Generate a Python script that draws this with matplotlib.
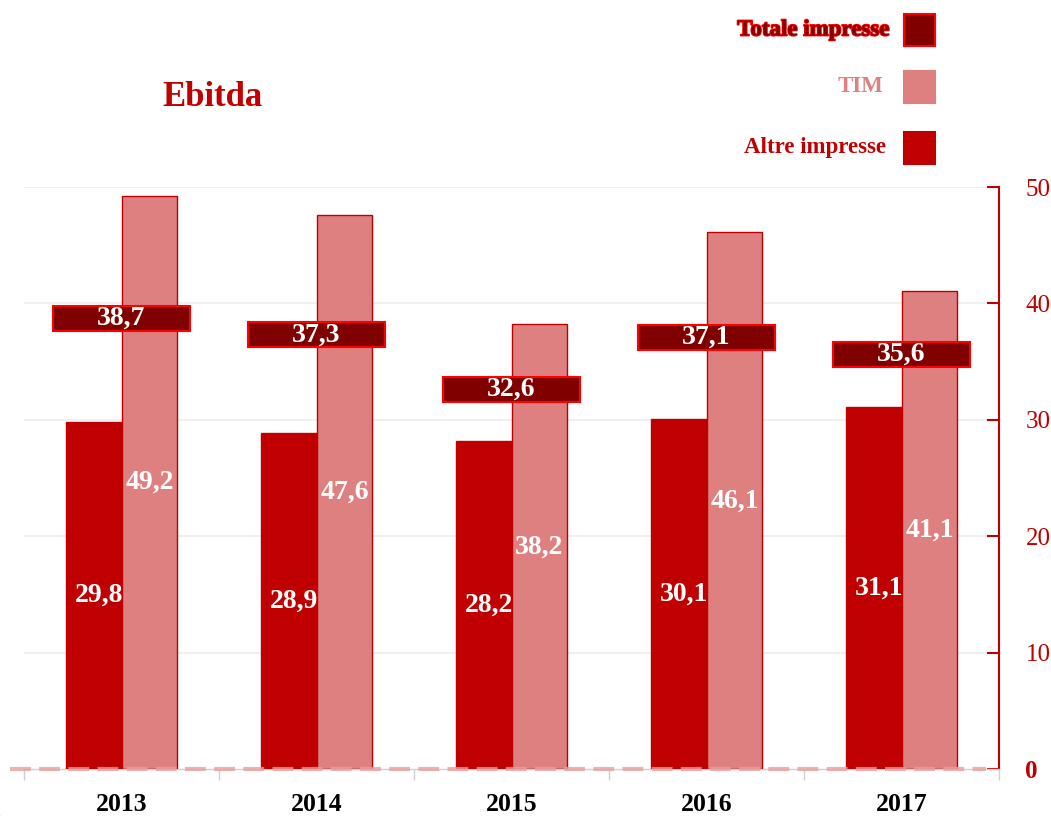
import matplotlib
matplotlib.use("Agg")
import matplotlib.pyplot as plt
import matplotlib.patheffects as pe
from matplotlib.patches import Rectangle, Arc

years = ["2013", "2014", "2015", "2016", "2017"]
altre = [29.8, 28.9, 28.2, 30.1, 31.1]
tim = [49.2, 47.6, 38.2, 46.1, 41.1]
totale = [38.7, 37.3, 32.6, 37.1, 35.6]
yticks = [0, 10, 20, 30, 40, 50]

C_ALTRE = "#C00000"
C_TIM = "#DF8080"
C_TOT = "#800000"
SERIF = "Liberation Serif"

plt.rcParams["font.family"] = SERIF

fig = plt.figure(figsize=(10.51, 8.16), dpi=100)
ax = fig.add_axes([24 / 1051, 47 / 816, 975 / 1051, 582 / 816])

x = list(range(len(years)))
w = 0.287
ax.bar([i - w / 2 for i in x], altre, width=w, color=C_ALTRE,
       edgecolor="#C00000", linewidth=1, zorder=3)
ax.bar([i + w / 2 for i in x], tim, width=w, color=C_TIM,
       edgecolor="#C00000", linewidth=1, zorder=3)

box_h = 2.15
ax.bar(x, [box_h] * len(x), bottom=[v - box_h / 2 for v in totale],
       width=0.70, color=C_TOT, edgecolor="#FF0000", linewidth=1.5, zorder=4)

lab = dict(color="white", fontsize=20, fontweight="bold", ha="center",
           va="center", zorder=5)
for i in x:
    ax.text(i - w / 2 + 0.03, altre[i] / 2, f"{altre[i]:.1f}".replace(".", ","), **lab)
    ax.text(i + w / 2, tim[i] / 2, f"{tim[i]:.1f}".replace(".", ","), **lab)
    ax.text(i, totale[i], f"{totale[i]:.1f}".replace(".", ","), **lab)

ax.set_xlim(-0.5, 4.5)
ax.set_ylim(0, 50)

# grid + dashed zero line (drawn over the bars, as in the source)
for t in yticks[1:]:
    ax.axhline(t, color="#EEEEEE", linewidth=1.2, zorder=1)
ax.axhline(0, xmin=-0.014, xmax=0.987, color="#E8A0A0", linewidth=3,
           linestyle=(0, (5, 2)), clip_on=False, zorder=6, alpha=0.8)

# right axis
ax.yaxis.tick_right()
ax.set_yticks(yticks)
ax.set_yticklabels([str(t) for t in yticks])
ax.tick_params(axis="y", direction="in", length=9, width=1.5, color=C_ALTRE,
               labelcolor=C_ALTRE, labelsize=18, pad=19)
ax.get_yticklabels()[0].set_fontweight("bold")
for s in ["left", "top"]:
    ax.spines[s].set_visible(False)
ax.spines["right"].set_color(C_ALTRE)
ax.spines["right"].set_linewidth(1.5)
ax.spines["bottom"].set_color("#D0D0D0")
ax.spines["bottom"].set_linewidth(1)

# x axis: ticks at category boundaries, labels at centers
ax.set_xticks([i - 0.5 for i in x] + [4.5])
ax.set_xticklabels([])
ax.set_xticks(x, minor=True)
ax.set_xticklabels(years, minor=True)
ax.tick_params(axis="x", which="major", direction="out", length=8,
               color="#D0D0D0", width=1)
ax.tick_params(axis="x", which="minor", length=0, labelsize=18.5, pad=17)
for t in ax.get_xticklabels(minor=True):
    t.set_fontweight("bold")

# title
fig.text(162 / 1051, 1 - 97 / 816, "Ebitda", color=C_ALTRE, fontsize=25,
         fontweight="bold", ha="left", va="center")

# legend
legend = [
    ("Totale impresse", C_TOT, "#FF0000", 30, 889),
    ("TIM", C_TIM, C_TIM, 87, 883),
    ("Altre impresse", C_ALTRE, C_ALTRE, 148, 886),
]
for name, fc, ec, yc, xr in legend:
    fig.patches.append(Rectangle((904 / 1051, 1 - (yc + 16) / 816),
                                 31 / 1051, 32 / 816, transform=fig.transFigure,
                                 facecolor=fc, edgecolor=ec, linewidth=1.5))
    tcolor = {"TIM": C_TIM}.get(name, "#C00000")
    t = fig.text(xr / 1051, 1 - yc / 816, name, ha="right", va="center",
                 fontsize=16.5, fontweight="bold", color=tcolor)
    if name.startswith("Totale"):
        t.set_color(C_TOT)
        t.set_path_effects([pe.withStroke(linewidth=1.3, foreground="#FF0000")])

# decorative arc bottom-left
fig.patches.append(Arc((-60 / 1051, 1 - 870 / 816), 160 / 1051, 160 / 816,
                       theta1=0, theta2=90, transform=fig.transFigure,
                       color="#C04040", linewidth=1.5))

fig.savefig("out.png", dpi=100)
